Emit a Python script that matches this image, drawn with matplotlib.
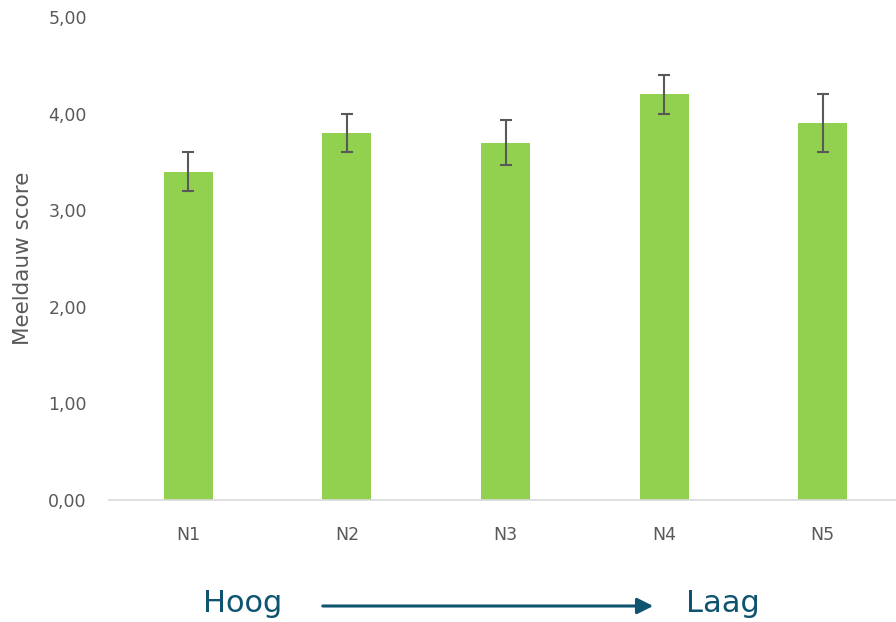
import matplotlib.pyplot as plt

categories = ['N1', 'N2', 'N3', 'N4', 'N5']
scores = [3.4, 3.8, 3.7, 4.2, 3.9]
errors = [0.2, 0.2, 0.23, 0.2, 0.3]

plt.rcParams['font.family'] = ['DejaVu Sans']

fig = plt.figure(figsize=(8.96, 6.22), dpi=100)
ax = fig.add_axes([109 / 896, 122 / 622, 793 / 896, 483 / 622])

x = range(len(categories))
ax.bar(x, scores, width=0.31, color='#92d050', zorder=2)
ax.errorbar(x, scores, yerr=errors, fmt='none', ecolor='#595959',
            elinewidth=1.5, capsize=4.5, capthick=1.5, zorder=3)

ax.set_xlim(-0.5, 4.5)
ax.set_ylim(0, 5)
ax.set_yticks([0, 1, 2, 3, 4, 5])
ax.set_yticklabels([f'{v:.2f}'.replace('.', ',') for v in range(6)])
ax.set_xticks(list(x))
ax.set_xticklabels(categories)
ax.tick_params(axis='both', length=0, colors='#595959', labelsize=12.5)
ax.tick_params(axis='x', pad=19)
ax.tick_params(axis='y', pad=16)

for side in ['top', 'right', 'left']:
    ax.spines[side].set_visible(False)
ax.spines['bottom'].set_color('#d9d9d9')
ax.spines['bottom'].set_linewidth(1.2)

ax.set_ylabel('Meeldauw score', fontsize=15.5, color='#595959')
ax.yaxis.set_label_coords(-0.096, 0.5)

# Hoog -> Laag pijl onder de grafiek
fig.text(243 / 896, 1 - 603 / 622, 'Hoog', fontsize=22, color='#0e5470',
         ha='center', va='center')
fig.text(723 / 896, 1 - 603 / 622, 'Laag', fontsize=22, color='#0e5470',
         ha='center', va='center')
fig.patches.append(plt.matplotlib.patches.FancyArrowPatch(
    (320 / 896, 1 - 606 / 622), (656 / 896, 1 - 606 / 622),
    transform=fig.transFigure, arrowstyle='-|>', mutation_scale=24,
    color='#0e5470', linewidth=2.2))

fig.savefig('out.png', dpi=100)
